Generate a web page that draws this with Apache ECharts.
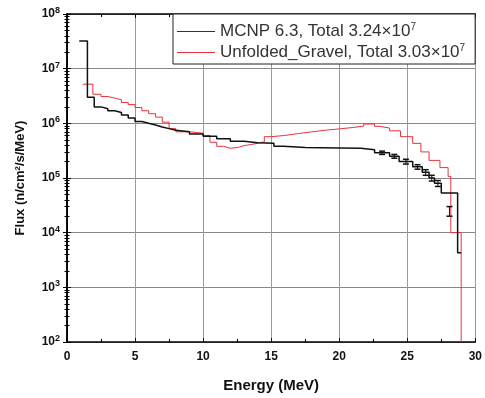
<!DOCTYPE html>
<html>
<head>
<meta charset="utf-8">
<script src="https://cdn.jsdelivr.net/npm/echarts@6/dist/echarts.min.js"></script>
<style>
  html, body { margin: 0; padding: 0; background: #fff; }
  #chart { width: 485px; height: 398px; }
</style>
</head>
<body>
<div id="chart"></div>
<script>
// MCNP 6.3 histogram (bin edges in MeV, flux per bin)
const mcnpEdges = [0.9, 1.5, 2.0, 2.5, 3.0, 3.5, 4.0, 4.5, 5.0, 5.5, 6.0, 6.5, 7.0, 7.5, 8.0, 9.0,
  10.0, 11.0, 12.0, 13.0, 14.0, 15.2, 15.9, 17.5, 20.0, 21.6, 22.6, 23.7, 24.4, 25.4, 26.1, 26.6,
  27.0, 27.5, 28.7, 28.96];
const mcnpFlux = [3.2e7, 3.0e6, 2.0e6, 1.85e6, 1.7e6, 1.58e6, 1.42e6, 1.25e6, 1.08e6, 1.0e6, 9.3e5,
  8.6e5, 8.0e5, 7.5e5, 7.0e5, 6.4e5, 5.8e5, 5.2e5, 4.7e5, 4.4e5, 4.3e5, 3.8e5, 3.6e5, 3.55e5, 3.5e5,
  3.3e5, 2.9e5, 2.5e5, 2.0e5, 1.6e5, 1.27e5, 1.0e5, 8.0e4, 5.3e4, 4.3e3];

// MCNP error bars
const errEnergy = [23.15, 24.05, 24.9, 25.75, 26.35, 26.8, 27.25, 28.1];
const errLow = [2.7e5, 2.3e5, 1.8e5, 1.45e5, 1.12e5, 8.8e4, 7.0e4, 2.0e4];
const errHigh = [3.1e5, 2.7e5, 2.2e5, 1.75e5, 1.42e5, 1.12e5, 9.0e4, 3.0e4];

// Unfolded_Gravel histogram
const gravelEdges = [1.15, 1.9, 2.5, 3, 3.5, 4, 4.5, 5, 5.5, 6, 6.5, 7, 7.5, 8, 9, 10, 10.5, 11, 11.5,
  12, 12.5, 13, 13.5, 14, 14.5, 15, 16, 17, 18, 19, 20, 21, 21.8, 22.6, 23.0, 23.7, 24.5, 25.4, 26.0,
  26.6, 27.4, 28.0, 28.2, 28.96];
const gravelFlux = [5.2e6, 3.4e6, 3.1e6, 2.9e6, 2.7e6, 2.4e6, 2.2e6, 1.95e6, 1.7e6, 1.5e6, 1.3e6, 1.05e6,
  8.0e5, 7.0e5, 6.6e5, 6.0e5, 4.5e5, 3.8e5, 3.5e5, 3.6e5, 3.9e5, 4.1e5, 4.3e5, 4.6e5, 5.7e5, 6.0e5,
  6.5e5, 7.0e5, 7.5e5, 7.9e5, 8.4e5, 8.9e5, 9.7e5, 8.8e5, 8.2e5, 7.3e5, 5.7e5, 4.3e5, 3.0e5, 2.1e5,
  1.55e5, 1.07e5, 1.0e4];

const xTicks = [0, 5, 10, 15, 20, 25, 30];
const yMin = 1e2, yMax = 1e8;

const mcnpName = 'MCNP 6.3, Total 3.24×10^7';
const gravelName = 'Unfolded_Gravel, Total 3.03×10^7';

function histPoints(edges, vals) {
  const pts = [];
  for (let i = 0; i < vals.length; i++) {
    pts.push([edges[i], vals[i]], [edges[i + 1], vals[i]]);
  }
  return pts;
}

const gravelPts = histPoints(gravelEdges, gravelFlux);
// red spectrum drops to the axis at its last edge
gravelPts.push([gravelEdges[gravelEdges.length - 1], yMin]);

const chart = echarts.init(document.getElementById('chart'), null, { renderer: 'canvas' });

const labelFont = 'Liberation Sans, Arial, sans-serif';
const powLabel = (v) => '{b|10}{s|' + Math.round(Math.log10(v)) + '}';

const option = {
  backgroundColor: '#fff',
  animation: false,
  grid: { left: 67, right: 9, top: 14, bottom: 55 },
  legend: {
    left: 173,
    top: 14,
    orient: 'vertical',
    backgroundColor: '#fff',
    borderColor: '#222',
    borderWidth: 1,
    borderRadius: 0,
    padding: [8, 10, 2, 4],
    icon: 'rect',
    itemWidth: 38,
    itemHeight: 1.2,
    itemGap: 2,
    data: [mcnpName, gravelName],
    formatter: (name) => {
      const parts = name.split('^');
      return '{t|' + parts[0] + '}{s|' + parts[1] + '}';
    },
    textStyle: {
      fontFamily: labelFont,
      color: '#333',
      rich: {
        t: { fontSize: 17, lineHeight: 18, fontFamily: labelFont, color: '#333' },
        s: { fontSize: 10, lineHeight: 18, fontFamily: labelFont, color: '#333', padding: [0, 0, 9, 0] }
      }
    }
  },
  xAxis: [{
    type: 'value',
    min: 0, max: 30, interval: 5,
    name: 'Energy (MeV)',
    nameLocation: 'middle',
    nameGap: 36,
    nameTextStyle: { fontFamily: labelFont, fontWeight: 'bold', fontSize: 15, color: '#111' },
    axisLine: { lineStyle: { color: '#000', width: 1.5 } },
    axisTick: { inside: true, length: 4, lineStyle: { color: '#000' } },
    minorTick: { show: true, splitNumber: 2, length: 3, lineStyle: { color: '#000' } },
    axisLabel: {
      fontFamily: labelFont, fontWeight: 'bold', fontSize: 12, color: '#111', margin: 9,
      formatter: (v) => xTicks.includes(v) ? String(v) : ''
    },
    splitLine: { show: true, lineStyle: { color: '#999', width: 1 } }
  }, {
    type: 'value',
    position: 'top',
    min: 0, max: 30, interval: 5,
    axisLine: { show: true, onZero: false, lineStyle: { color: '#000', width: 1.5 } },
    axisTick: { inside: true, length: 4, lineStyle: { color: '#000' } },
    minorTick: { show: true, splitNumber: 2, length: 3, lineStyle: { color: '#000' } },
    axisLabel: { show: false },
    splitLine: { show: false }
  }],
  yAxis: [{
    type: 'log',
    logBase: 10,
    min: yMin, max: yMax,
    name: 'Flux (n/cm²/s/MeV)',
    nameLocation: 'middle',
    nameGap: 40,
    nameTextStyle: { fontFamily: labelFont, fontWeight: 'bold', fontSize: 13, color: '#111' },
    axisLine: { show: true, lineStyle: { color: '#000', width: 1.5 } },
    axisTick: { show: true, inside: true, length: 4, lineStyle: { color: '#000' } },
    minorTick: { show: true, splitNumber: 9, length: 2.5, lineStyle: { color: '#000' } },
    axisLabel: {
      margin: 7,
      formatter: powLabel,
      rich: {
        b: { fontFamily: labelFont, fontWeight: 'bold', fontSize: 12, color: '#111' },
        s: { fontFamily: labelFont, fontWeight: 'bold', fontSize: 9, color: '#111', padding: [0, 0, 7, 0] }
      }
    },
    splitLine: { show: true, lineStyle: { color: '#888', width: 1 } }
  }, {
    type: 'log',
    logBase: 10,
    min: yMin, max: yMax,
    position: 'right',
    axisLine: { show: true, lineStyle: { color: '#000', width: 1.5 } },
    axisTick: { show: true, inside: true, length: 4, lineStyle: { color: '#000' } },
    minorTick: { show: true, splitNumber: 9, length: 2.5, lineStyle: { color: '#000' } },
    axisLabel: { show: false },
    splitLine: { show: false }
  }],
  series: [{
    name: mcnpName,
    type: 'line',
    data: histPoints(mcnpEdges, mcnpFlux),
    symbol: 'none',
    lineStyle: { color: '#111', width: 1.5 },
    itemStyle: { color: '#333' },
    z: 3
  }, {
    name: gravelName,
    type: 'line',
    data: gravelPts,
    symbol: 'none',
    lineStyle: { color: '#e8323c', width: 1 },
    itemStyle: { color: '#e8323c' },
    z: 2
  }, {
    name: 'err',
    type: 'custom',
    data: errEnergy.map((e, i) => [e, errLow[i], errHigh[i]]),
    renderItem: (params, api) => {
      const lo = api.coord([api.value(0), api.value(1)]);
      const hi = api.coord([api.value(0), api.value(2)]);
      const w = 3;
      return {
        type: 'group',
        children: [
          { type: 'line', shape: { x1: lo[0], y1: lo[1], x2: hi[0], y2: hi[1] }, style: { stroke: '#111', lineWidth: 1 } },
          { type: 'line', shape: { x1: lo[0] - w, y1: lo[1], x2: lo[0] + w, y2: lo[1] }, style: { stroke: '#111', lineWidth: 1.5 } },
          { type: 'line', shape: { x1: hi[0] - w, y1: hi[1], x2: hi[0] + w, y2: hi[1] }, style: { stroke: '#111', lineWidth: 1.5 } }
        ]
      };
    },
    z: 4
  }]
};

chart.setOption(option);
</script>
</body>
</html>
